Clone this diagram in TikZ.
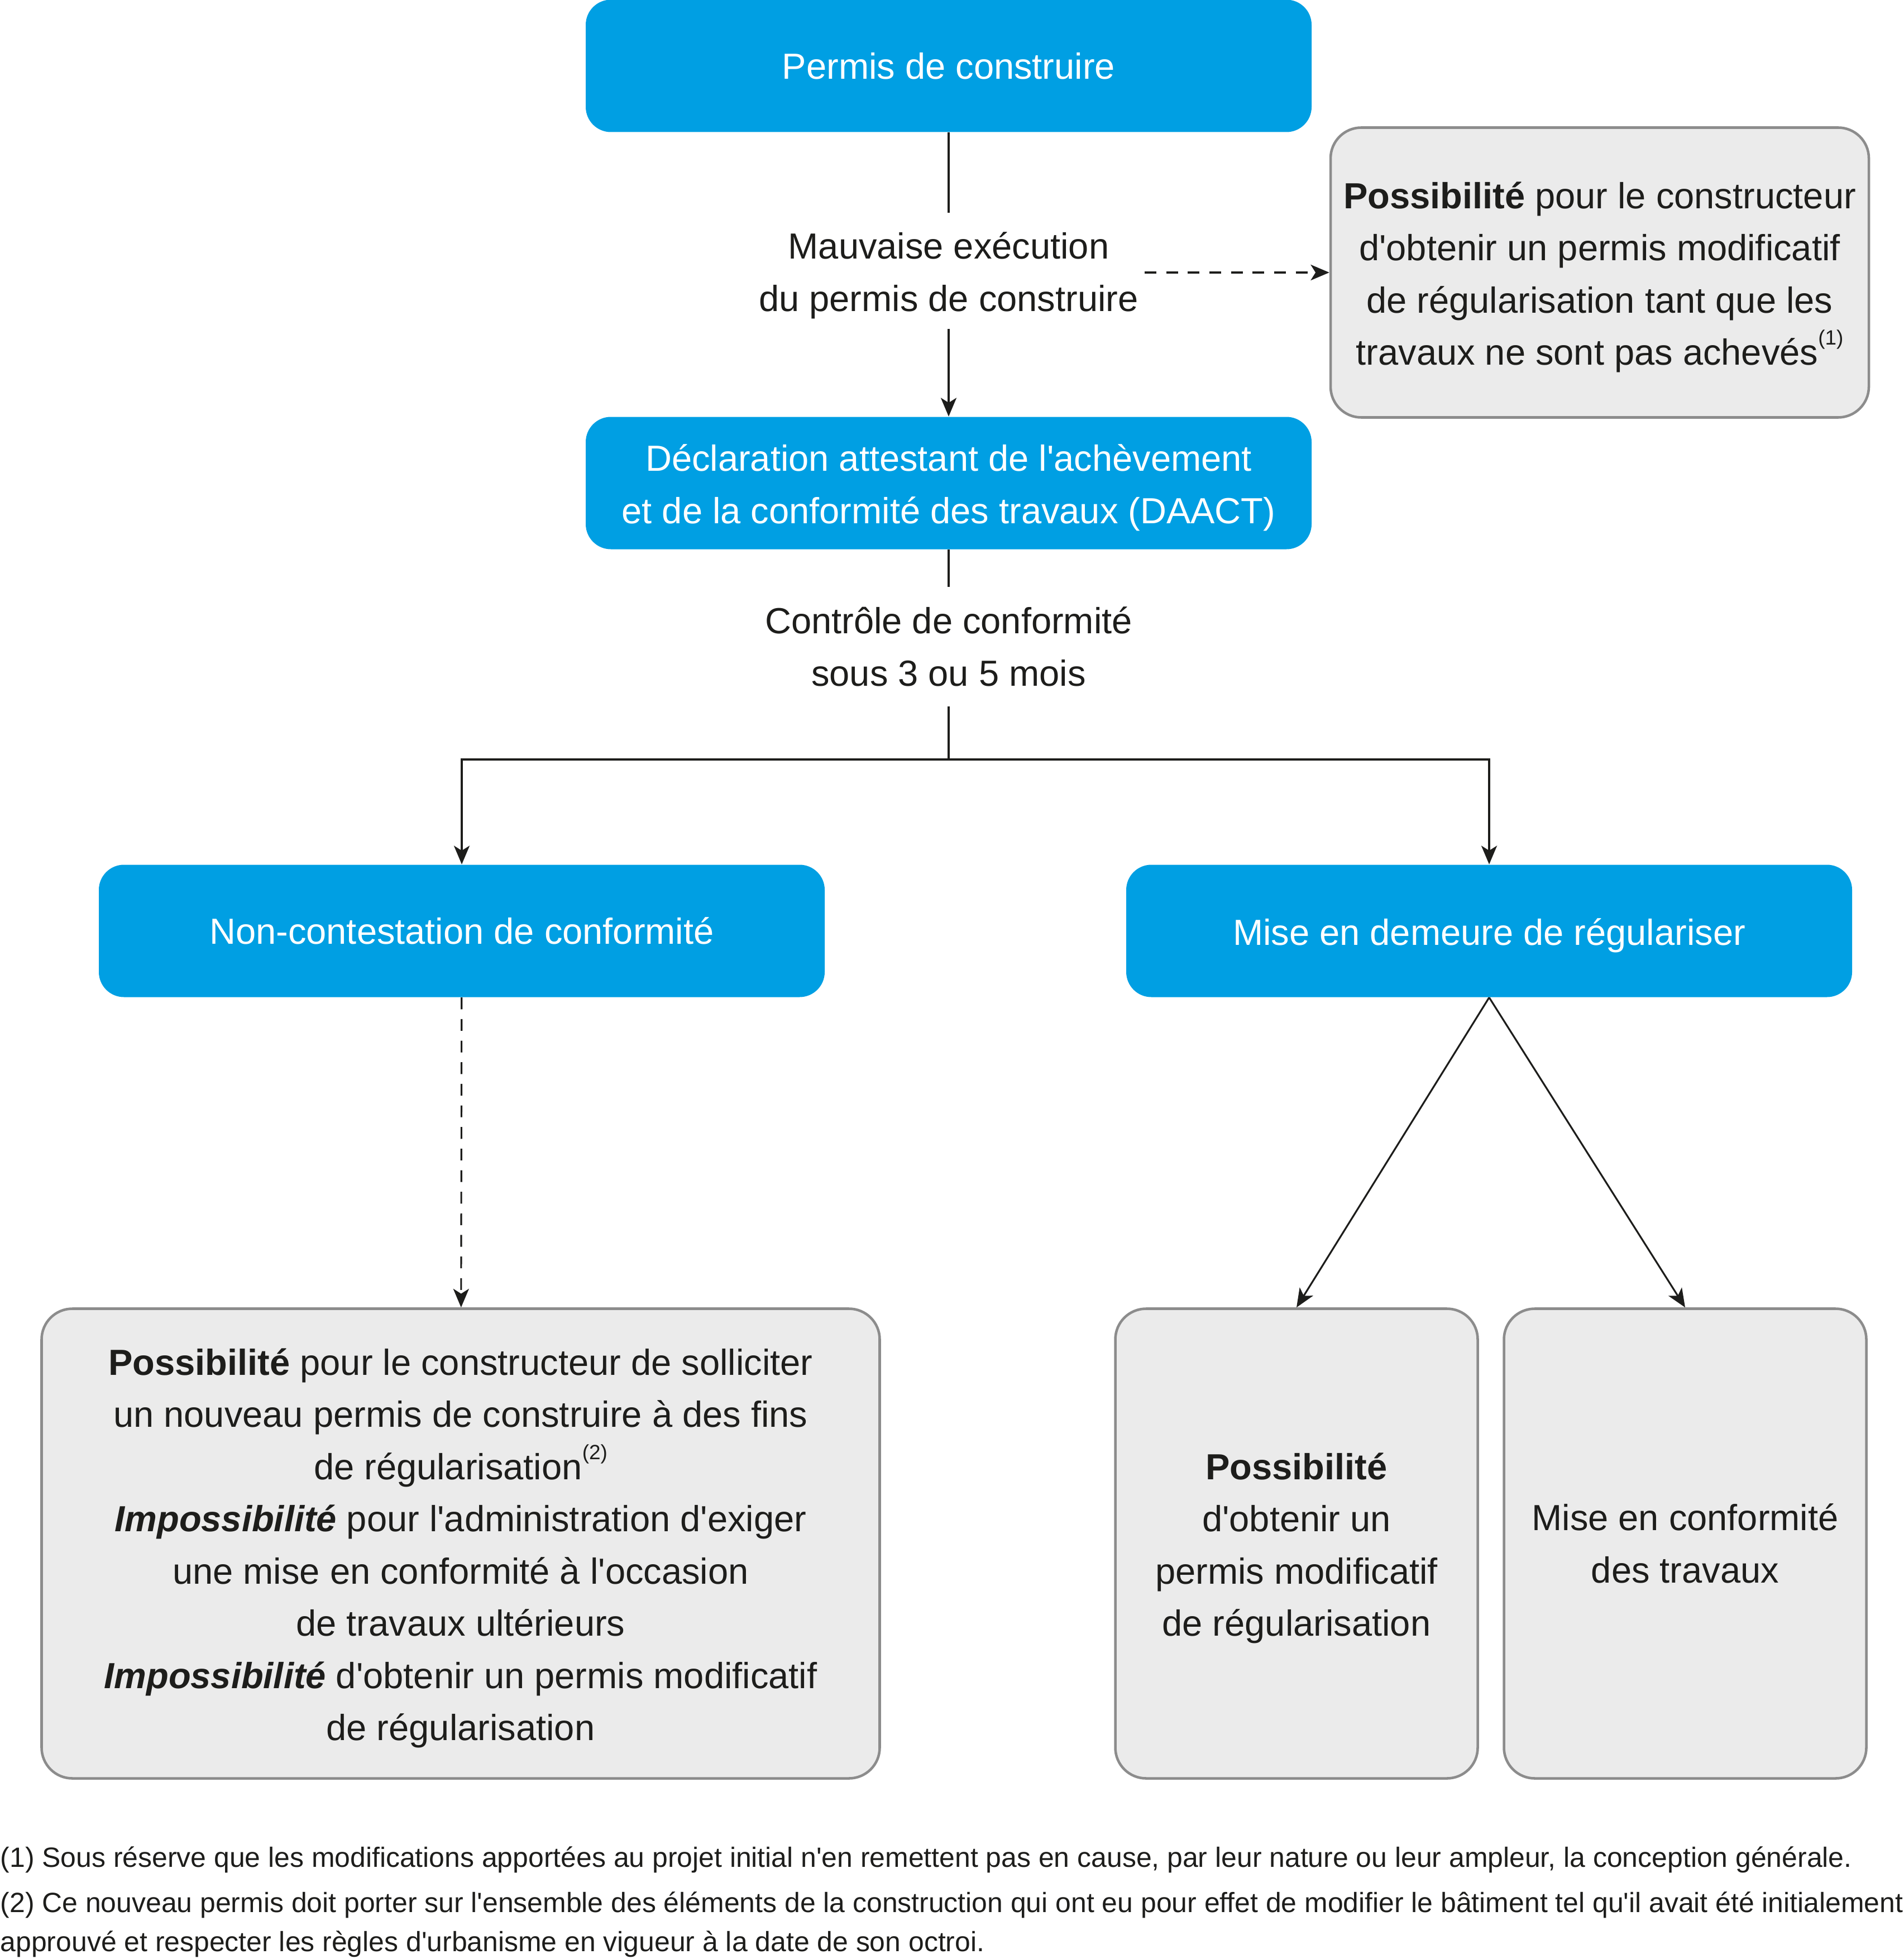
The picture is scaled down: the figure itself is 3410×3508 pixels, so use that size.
\documentclass[tikz,border=0pt]{standalone}
\usepackage{fontspec}
\setmainfont{Liberation Sans}[Ligatures=TeXOff]
\usetikzlibrary{arrows.meta}
\definecolor{bleu}{HTML}{009FE3}
\definecolor{grisfond}{HTML}{EBEBEB}
\definecolor{grisbord}{HTML}{8C8C8C}
\definecolor{encre}{HTML}{1D1D1B}
\newcommand\renvoi[1]{\raisebox{0.55em}{\fontsize{10.5}{10.5}\selectfont(#1)}}
\newcommand\haut{\rule{0pt}{18.3pt}}

\begin{document}
\begin{tikzpicture}[x=0.1mm,y=-0.1mm,
		font=\fontsize{18.5}{26.6}\selectfont, text=encre,
		etape/.style={fill=bleu, text=white, rounded corners=4.5mm, minimum width=130mm, minimum height=23.7mm, align=center},
		cadre/.style={draw=grisbord, line width=1.3pt, fill=grisfond, rounded corners=5.5mm, align=center},
		legende/.style={align=center, inner ysep=0pt, inner xsep=3pt},
		trait/.style={line width=0.9pt, draw=encre},
		fleche/.style={trait, -{Stealth[length=9.5pt,width=8pt,inset=2.5pt]}},
		tirets/.style={dash pattern=on 6pt off 5pt}]
			\useasboundingbox (0,0) rectangle (3410,3508);
			\node[etape] at (1699,118) (permis) {Permis de construire};
			\node[legende, minimum height=20.6mm] at (1699,485) (mauvaise) {\haut Mauvaise exécution\\du permis de construire};
			\node[cadre, minimum width=96.4mm, minimum height=51.9mm] at (2865,488) (possib1) {\haut\textbf{Possibilité} pour le constructeur\\d'obtenir un permis modificatif\\de régularisation tant que les\\travaux ne sont pas achevés\renvoi{1}};
			\node[etape] at (1699,865) (daact) {\haut Déclaration attestant de l'achèvement\\et de la conformité des travaux (DAACT)};
			\node[legende, minimum height=21.2mm] at (1699,1158) (controle) {Contrôle de conformité\\sous 3 ou 5 mois};
			\coordinate (fourche) at (1699,1360);
			\node[etape] at (827,1667) (noncontest) {Non-contestation de conformité};
			\node[etape] at (2667,1667) (demeure) {\haut Mise en demeure de régulariser};
			\node[cadre, minimum width=150.1mm, minimum height=84.1mm] at (825,2764) (nouveau) {\haut\textbf{Possibilité} pour le constructeur de solliciter\\un nouveau permis de construire à des fins\\de régularisation\renvoi{2}\\\textbf{\textit{Impossibilité}} pour l'administration d'exiger\\une mise en conformité à l'occasion\\de travaux ultérieurs\\\textbf{\textit{Impossibilité}} d'obtenir un permis modificatif\\de régularisation};
			\node[cadre, minimum width=64.9mm, minimum height=84.1mm] at (2322,2764) (modif) {\haut\textbf{Possibilité}\\d'obtenir un\\permis modificatif\\de régularisation};
			\node[cadre, minimum width=64.9mm, minimum height=84.1mm] at (3018,2764) (conformite) {Mise en conformité\\des travaux};
			\draw[trait] (permis) -- (mauvaise);
			\draw[fleche] (mauvaise) -- (daact);
			\draw[fleche, tirets] (mauvaise.east |- possib1.west) -- (possib1.west);
			\draw[trait] (daact) -- (controle);
			\draw[trait] (controle) -- (fourche);
			\draw[fleche] (fourche) -| (noncontest);
			\draw[fleche] (fourche) -| (demeure);
			\draw[fleche, tirets] (noncontest) -- (nouveau);
			\draw[fleche] (demeure.south) -- (modif.north);
			\draw[fleche] (demeure.south) -- (conformite.north);
			% renvois
			\node[anchor=west, inner sep=0pt, font=\fontsize{14.2}{20.5}\selectfont] at (0,3330) (note1) {(1) Sous réserve que les modifications apportées au projet initial n'en remettent pas en cause, par leur nature ou leur ampleur, la conception générale.};
			\node[anchor=west, inner sep=0pt, align=left, font=\fontsize{14.2}{19.9}\selectfont] at (0,3446) (note2) {(2) Ce nouveau permis doit porter sur l'ensemble des éléments de la construction qui ont eu pour effet de modifier le bâtiment tel qu'il avait été initialement\\approuvé et respecter les règles d'urbanisme en vigueur à la date de son octroi.};
		\end{tikzpicture}
\end{document}
